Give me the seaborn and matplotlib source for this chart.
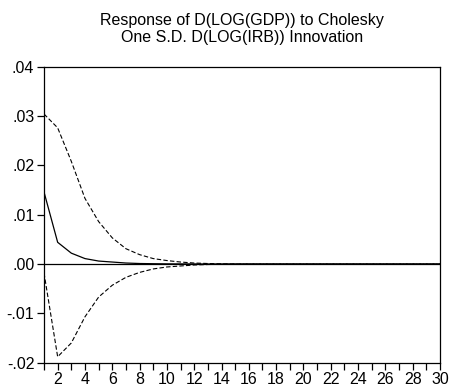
import matplotlib
matplotlib.use("Agg")
import matplotlib.pyplot as plt
import seaborn as sns
import pandas as pd

periods = list(range(1, 31))
response = [0.0146, 0.0044, 0.0022, 0.0011, 0.0006, 0.0004, 0.0002, 0.0001, 0.00006, 0.00003,
            0.00002, 0.00001] + [0.0] * 18
upper = [0.0304, 0.0276, 0.0208, 0.0133, 0.0086, 0.0053, 0.0031, 0.0019, 0.0011, 0.0007,
         0.0004, 0.0002, 0.0001, 0.00005, 0.00002] + [0.0] * 15
lower = [-0.0018, -0.0188, -0.0160, -0.0107, -0.0067, -0.0043, -0.0027, -0.0017, -0.0010, -0.0006,
         -0.0004, -0.0002, -0.0001, -0.00005, -0.00002] + [0.0] * 15

title = "Response of D(LOG(GDP)) to Cholesky\nOne S.D. D(LOG(IRB)) Innovation"
yticks = [-0.02, -0.01, 0.0, 0.01, 0.02, 0.03, 0.04]
ytick_labels = ["-.02", "-.01", ".00", ".01", ".02", ".03", ".04"]
xtick_labels = list(range(2, 31, 2))

sns.set_style("ticks")
plt.rcParams['font.family'] = ['Liberation Sans', 'DejaVu Sans']

df = pd.DataFrame({"period": periods, "response": response, "upper": upper, "lower": lower})

fig = plt.figure(figsize=(4.49, 3.87), dpi=100)
ax = fig.add_axes([0.098, 0.0628, 0.882, 0.765])

ax.axhline(0, color="black", lw=0.9)
sns.lineplot(data=df, x="period", y="response", ax=ax, color="black", lw=0.9)
sns.lineplot(data=df, x="period", y="upper", ax=ax, color="black", lw=0.8,
             linestyle=(0, (4, 2)))
sns.lineplot(data=df, x="period", y="lower", ax=ax, color="black", lw=0.8,
             linestyle=(0, (4, 2)))

ax.set_xlim(1, 30)
ax.set_ylim(-0.02, 0.04)
ax.set_xticks(periods)
ax.set_xticklabels([str(p) if p in xtick_labels else "" for p in periods])
ax.set_yticks(yticks)
ax.set_yticklabels(ytick_labels)
ax.tick_params(axis="both", direction="out", length=5, width=0.9, labelsize=11.5, colors="black", pad=2)
ax.set_xlabel("")
ax.set_ylabel("")
for s in ax.spines.values():
    s.set_visible(True)
    s.set_linewidth(0.9)
    s.set_color("black")
ax.set_title(title, fontsize=11.5, pad=18, linespacing=1.1, color="black")

fig.savefig("out.png", dpi=100)
